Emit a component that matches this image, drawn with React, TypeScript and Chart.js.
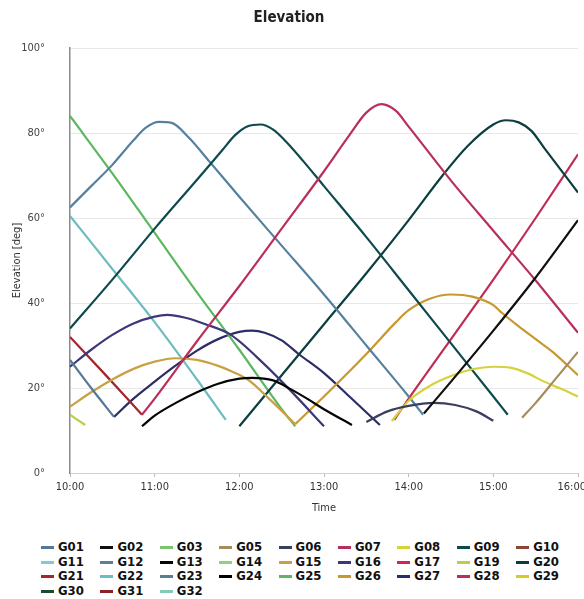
import React, { useEffect, useRef } from 'react';
import { Chart, registerables } from 'chart.js';

Chart.register(...registerables);

// ---- data (time in hours, elevation in degrees) ----
const timeTicks = [10, 11, 12, 13, 14, 15, 16];
const elevTicks = [0, 20, 40, 60, 80, 100];

const g01 = [[10.0, 26.6], [10.25, 20], [10.52, 13.2]];
const g02 = [[14.18, 14], [14.5, 21.5], [15.0, 33.5], [15.5, 46], [16.0, 59.5]];
const g03: number[][] = [];
const g05 = [[15.34, 13], [15.5, 16.5], [15.75, 22.5], [16.0, 28.5]];
const g06 = [[13.5, 12], [13.75, 14.5], [14.0, 15.8], [14.3, 16.5], [14.55, 16], [14.8, 14.5], [15.0, 12.3]];
const g07 = [[10.85, 13.7], [11.0, 17.5], [11.5, 31], [12.0, 44], [12.5, 57.5], [13.0, 71], [13.3, 79.5], [13.5, 84.8], [13.68, 86.8], [13.85, 85.2], [14.0, 81.5], [14.5, 68.8], [15.0, 57], [15.5, 45.3], [16.0, 33]];
const g08 = [[13.8, 12.2], [14.0, 17], [14.25, 20.5], [14.5, 22.8], [14.75, 24.4], [15.0, 25], [15.2, 24.8], [15.4, 23.5], [15.6, 21.5], [15.8, 19.8], [16.0, 18]];
const g09 = [[10.0, 34], [10.5, 45.5], [11.0, 57.5], [11.5, 69], [11.8, 76], [11.95, 79.5], [12.1, 81.6], [12.25, 82], [12.4, 80.8], [12.55, 78], [12.75, 73.5], [13.0, 67.5], [13.5, 55.5], [14.0, 43], [14.5, 30.5], [15.0, 18], [15.17, 13.7]];
const g10: number[][] = [];
const g11: number[][] = [];
const g12 = [[10.0, 62.5], [10.25, 67.5], [10.5, 72.5], [10.75, 78.3], [10.9, 81.3], [11.05, 82.6], [11.2, 82.4], [11.4, 79], [11.65, 73.2], [12.0, 65], [12.5, 53.5], [13.0, 42], [13.5, 30], [14.0, 18], [14.17, 13.7]];
const g13 = [[10.85, 11], [11.0, 13.5], [11.25, 16.5], [11.5, 19], [11.75, 21], [12.0, 22.2], [12.15, 22.4], [12.4, 21.8], [12.6, 19.8], [12.8, 17.5], [13.0, 15], [13.33, 11.3]];
const g14: number[][] = [];
const g15 = [[10.0, 15.6], [10.25, 19], [10.5, 22], [10.75, 24.5], [11.0, 26.2], [11.25, 27], [11.5, 26.6], [11.75, 25.2], [11.9, 24], [12.1, 22], [12.35, 17.5], [12.66, 11.5]];
const g16 = [[10.0, 25], [10.25, 29], [10.5, 32.5], [10.75, 35.2], [11.0, 36.8], [11.15, 37.2], [11.35, 36.6], [11.6, 35], [11.9, 32.5], [12.3, 25.5], [12.6, 19.5], [13.0, 11]];
const g17: number[][] = [];
const g19 = [[10.0, 13.7], [10.18, 11.3]];
const g20 = [[12.0, 11], [12.5, 23], [13.0, 35], [13.5, 47], [14.0, 59.5], [14.4, 70], [14.7, 77], [15.0, 82], [15.15, 83], [15.3, 82.5], [15.45, 80.5], [15.6, 76.5], [16.0, 66]];
const g21 = [[10.0, 32], [10.4, 23.5], [10.85, 13.7]];
const g22 = [[10.0, 60.5], [10.5, 48], [11.0, 35.5], [11.5, 22], [11.84, 12.5]];
const g23: number[][] = [];
const g24: number[][] = [];
const g25 = [[10.0, 84], [10.5, 70.5], [11.0, 56.5], [11.5, 42.5], [12.0, 29], [12.5, 15], [12.66, 11]];
const g26 = [[12.66, 11.5], [13.0, 18], [13.5, 28], [13.85, 35.5], [14.0, 38.3], [14.25, 41], [14.5, 42], [14.75, 41.5], [15.0, 39.5], [15.1, 37.7], [15.3, 34.5], [15.5, 31.5], [15.7, 28.5], [16.0, 23]];
const g27 = [[10.52, 13.2], [10.75, 17.5], [11.0, 21.5], [11.25, 25.3], [11.5, 28.8], [11.75, 31.5], [12.0, 33.2], [12.15, 33.5], [12.3, 33], [12.5, 31.2], [12.7, 28], [13.0, 23.5], [13.3, 18], [13.66, 11.3]];
const g28 = [[13.83, 12.5], [14.0, 17.5], [14.5, 31.5], [15.0, 45.5], [15.5, 60], [16.0, 75]];
const g29: number[][] = [];
const g30: number[][] = [];
const g31: number[][] = [];
const g32: number[][] = [];

const satellites = ['G01', 'G02', 'G03', 'G05', 'G06', 'G07', 'G08', 'G09', 'G10', 'G11', 'G12', 'G13', 'G14', 'G15', 'G16', 'G17', 'G19', 'G20', 'G21', 'G22', 'G23', 'G24', 'G25', 'G26', 'G27', 'G28', 'G29', 'G30', 'G31', 'G32'];
const series = [g01, g02, g03, g05, g06, g07, g08, g09, g10, g11, g12, g13, g14, g15, g16, g17, g19, g20, g21, g22, g23, g24, g25, g26, g27, g28, g29, g30, g31, g32];
const colors = ['#56779a', '#101010', '#7cc46a', '#a88b5c', '#3b3f5e', '#b8305a', '#d6d23c', '#0e4a4c', '#8c4536', '#86c6dc', '#55809f', '#050505', '#8ed27e', '#c9a044', '#3c3878', '#d2245a', '#c0cc48', '#0b3f3f', '#a3262e', '#6dbcc0', '#5a7e98', '#000000', '#5cb860', '#c8982e', '#2c2c68', '#c02c54', '#d4cc24', '#1e4a30', '#8c2226', '#86c8bc'];

const FONT = "'Liberation Sans Narrow', 'DejaVu Sans Condensed', 'Open Sans', sans-serif";

export default function App() {
  const ref = useRef<HTMLCanvasElement>(null);

  useEffect(() => {
    document.body.style.margin = '0';
    const datasets = satellites.map((name, i) => ({
      label: name,
      data: series[i].map(([x, y]) => ({ x, y })),
      borderColor: colors[i],
      backgroundColor: colors[i],
      borderWidth: 2.2,
      pointRadius: 0,
      fill: false,
      cubicInterpolationMode: 'monotone' as const,
    }));
    const chart = new Chart(ref.current!, {
      type: 'line',
      data: { datasets },
      options: {
        animation: false,
        responsive: false,
        maintainAspectRatio: false,
        layout: { padding: { left: 0, right: 6, top: 0, bottom: 3 } },
        plugins: {
          legend: { display: false },
          tooltip: { enabled: false },
          title: {
            display: true,
            text: 'Elevation',
            color: '#222',
            font: { family: FONT, size: 15, weight: 'bold' },
            padding: { top: 9, bottom: 21 },
          },
        },
        scales: {
          x: {
            type: 'linear',
            min: 10,
            max: 16,
            afterBuildTicks: (s: any) => {
              s.ticks = timeTicks.map((v) => ({ value: v }));
            },
            afterFit: (s: any) => {
              s.paddingRight = 0;
              s.height = 46;
            },
            ticks: {
              autoSkip: false,
              maxRotation: 0,
              padding: 4,
              color: '#333',
              font: { family: FONT, size: 11 },
              callback: (v: any) => (v === 16 ? '16:00\u00a0\u00a0\u00a0\u00a0' : `${v}:00`),
            },
            grid: { drawOnChartArea: false, tickLength: 4, color: '#bbb' },
            border: { color: '#d0d0d0', width: 1 },
            title: {
              display: true,
              text: 'Time',
              color: '#333',
              font: { family: FONT, size: 11 },
              padding: { top: 7, bottom: 4 },
            },
          },
          y: {
            min: 0,
            max: 100,
            afterBuildTicks: (s: any) => {
              s.ticks = elevTicks.map((v) => ({ value: v }));
            },
            afterFit: (s: any) => {
              s.width = 70;
            },
            ticks: {
              padding: 25,
              color: '#444',
              font: { family: FONT, size: 11 },
              callback: (v: any) => `${v}°`,
            },
            grid: { drawTicks: false, color: (c: any) => (c.tick && c.tick.value === 0 ? 'rgba(0,0,0,0)' : '#e8e8e8') },
            border: { color: '#8a8a8a', width: 1.5 },
            title: {
              display: true,
              text: 'Elevation [deg]',
              color: '#333',
              font: { family: FONT, size: 11 },
              padding: { top: 11, bottom: 0 },
            },
          },
        },
      },
    });
    return () => chart.destroy();
  }, []);

  return (
    <div style={{ position: 'absolute', left: 0, top: 0, width: 584, height: 599, background: '#fff', overflow: 'hidden' }}>
      <canvas ref={ref} width={584} height={522} style={{ display: 'block' }} />
      <div
        style={{
          position: 'absolute',
          left: 41,
          top: 540,
          display: 'grid',
          gridTemplateColumns: 'repeat(9, 59.4px)',
          gridAutoRows: '14.7px',
          fontFamily: FONT,
          fontWeight: 'bold',
          fontSize: 13,
          color: '#111',
        }}
      >
        {satellites.map((name, i) => (
          <div key={name} style={{ display: 'flex', alignItems: 'center', lineHeight: '14.7px', whiteSpace: 'nowrap' }}>
            <span style={{ display: 'inline-block', width: 13, height: 3, background: colors[i], marginRight: 4 }} />
            <span>{name}</span>
          </div>
        ))}
      </div>
    </div>
  );
}
